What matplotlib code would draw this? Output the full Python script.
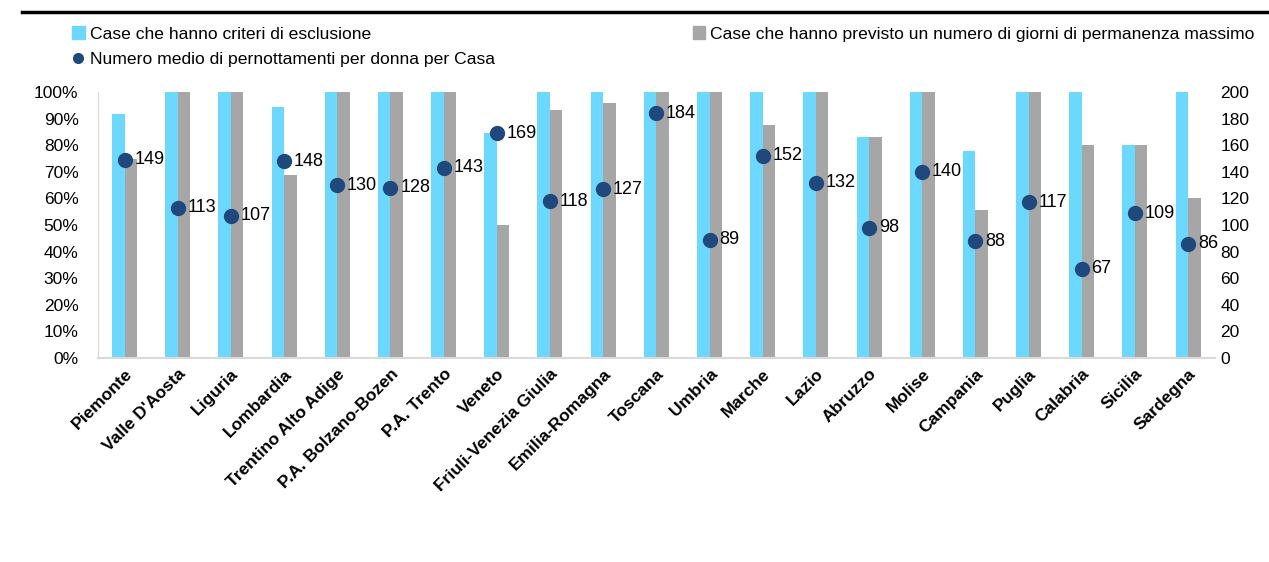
import matplotlib.pyplot as plt
import numpy as np
from matplotlib.lines import Line2D
from matplotlib.patches import Patch
from matplotlib.ticker import PercentFormatter

plt.rcParams['font.family'] = ['Liberation Sans', 'DejaVu Sans']

# Dati
regioni = ["Piemonte", "Valle D'Aosta", "Liguria", "Lombardia", "Trentino Alto Adige",
           "P.A. Bolzano-Bozen", "P.A. Trento", "Veneto", "Friuli-Venezia Giulia",
           "Emilia-Romagna", "Toscana", "Umbria", "Marche", "Lazio", "Abruzzo",
           "Molise", "Campania", "Puglia", "Calabria", "Sicilia", "Sardegna"]
criteri = [91.7, 100, 100, 94.4, 100, 100, 100, 84.6, 100, 100,
           100, 100, 100, 100, 83.3, 100, 77.8, 100, 100, 80, 100]
giorni_max = [75, 100, 100, 68.8, 100, 100, 100, 50, 93.3, 95.8,
              100, 100, 87.5, 100, 83.3, 100, 55.6, 100, 80, 80, 60]
pernottamenti = [149, 113, 107, 148, 130, 128, 143, 169, 118, 127,
                 184, 89, 152, 132, 98, 140, 88, 117, 67, 109, 86]

c_cyan = "#6dd8fd"
c_gray = "#a6a6a6"
c_dot = "#1f497d"

fig = plt.figure(figsize=(12.69, 5.62), dpi=100)
ax = fig.add_axes([0.0772, 0.363, 0.880, 0.473])
ax2 = ax.twinx()

x = np.arange(len(regioni))
w = 0.235
ax.bar(x - w / 2, criteri, w, color=c_cyan)
ax.bar(x + w / 2, giorni_max, w, color=c_gray)

ax2.plot(x, pernottamenti, linestyle="none", marker="o", markersize=10, color=c_dot)
for xi, v in zip(x, pernottamenti):
    ax2.annotate(str(v), (xi, v), xytext=(7, 0), textcoords="offset points",
                 va="center", ha="left", fontsize=13)

ax.set_ylim(0, 100)
ax2.set_ylim(0, 200)
ax.set_xlim(-0.5, len(regioni) - 0.5)
ax.set_yticks(np.arange(0, 101, 10))
ax.yaxis.set_major_formatter(PercentFormatter(decimals=0))
ax2.set_yticks(np.arange(0, 201, 20))
ax.set_xticks(x)
ax.set_xticklabels(regioni, rotation=45, ha="right", rotation_mode="anchor",
                   fontsize=12.5, fontweight="bold")
ax.tick_params(axis="x", length=0, pad=6)
ax.tick_params(axis="y", length=0, labelsize=12.5, pad=14)
ax2.tick_params(axis="y", length=0, labelsize=12.5, pad=4)

for a in (ax, ax2):
    for s in a.spines.values():
        s.set_visible(False)
ax.spines["left"].set_visible(True)
ax.spines["left"].set_color("#d9d9d9")
ax.spines["bottom"].set_visible(True)
ax.spines["bottom"].set_color("#d9d9d9")
ax.spines["bottom"].set_linewidth(1.5)

# Legende
h1 = [Patch(color=c_cyan, label="Case che hanno criteri di esclusione"),
      Line2D([], [], linestyle="none", marker="o", markersize=7, color=c_dot,
             label="Numero medio di pernottamenti per donna per Casa")]
h2 = [Patch(color=c_gray, label="Case che hanno previsto un numero di giorni di permanenza massimo")]
leg_kw = dict(loc="upper left", frameon=False, fontsize=12.6, handlelength=0.7,
              handleheight=0.7, handletextpad=0.3, borderaxespad=0, borderpad=0)
fig.legend(handles=h1, bbox_to_anchor=(0.057, 0.953), labelspacing=0.6, **leg_kw)
fig.legend(handles=h2, bbox_to_anchor=(0.546, 0.953), **leg_kw)

fig.add_artist(Line2D([0.017, 1.0], [0.978, 0.978], color="black", linewidth=2.5,
                      transform=fig.transFigure))

fig.savefig("out.png", dpi=100)
